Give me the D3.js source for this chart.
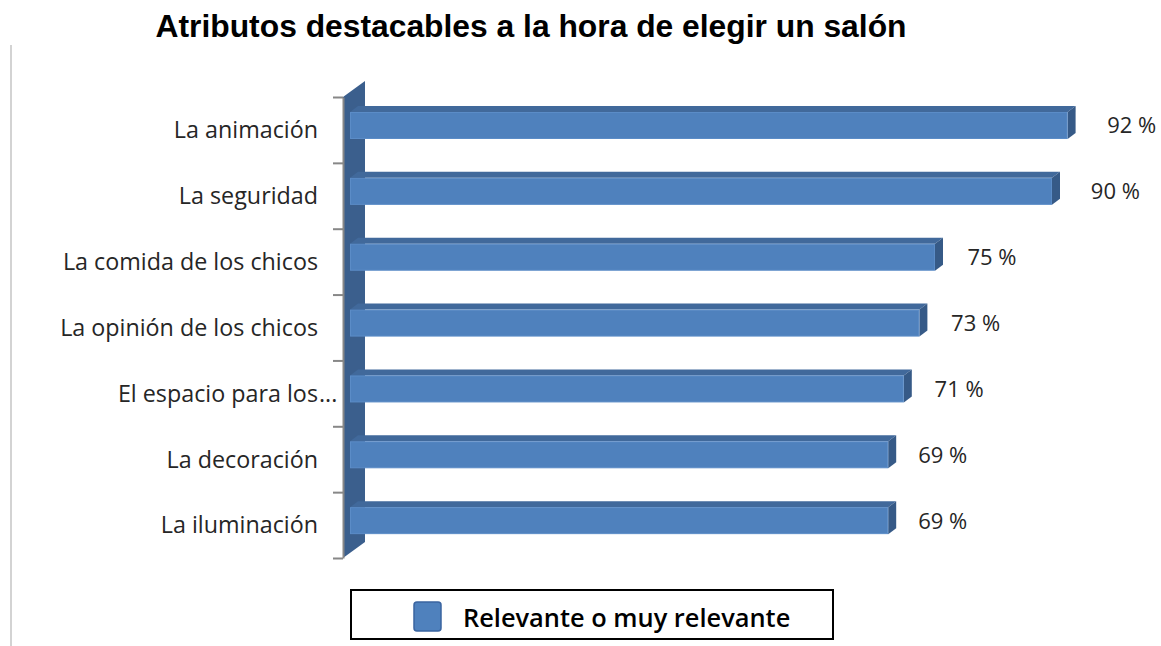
<!DOCTYPE html>
<html>
<head>
<meta charset="utf-8">
<script src="https://cdn.jsdelivr.net/npm/d3@7"></script>
<style>
  html, body { margin: 0; padding: 0; background: #fff; }
  svg { display: block; }
</style>
</head>
<body>
<svg id="chart" width="1161" height="646"></svg>
<script>
// Chart content
const chartTitle = "Atributos destacables a la hora de elegir un salón";
const categories = [
  "La animación",
  "La seguridad",
  "La comida de los chicos",
  "La opinión de los chicos",
  "El espacio para los...",
  "La decoración",
  "La iluminación"
];
const values = [92, 90, 75, 73, 71, 69, 69];
const seriesName = "Relevante o muy relevante";

const svg = d3.select("#chart");

const colors = {
  front: "#4f81bd",
  frontEdge: "#5b8cc7",
  top: "#41699b",
  side: "#365a87",
  wall: "#3b5f8d",
  axis: "#878787",
  text: "#262626"
};
const labelFont = "'Open Sans', Lato, sans-serif";

// Value axis (front plane) and the deeper plane used for the data labels
const x = d3.scaleLinear().domain([0, 100]).range([350, 1130]);
const xLabel = d3.scaleLinear().domain([0, 100]).range([351, 1173]);
const y = d3.scaleBand().domain(categories).range([97, 558]);
const yEdges = d3.scaleLinear().domain([0, categories.length]).range(y.range());

// 3D projection offsets
const wallDepth = { dx: 22, dy: -16 };
const barDepth = { dx: 8, dy: -6 };
const barOffset = 15, barHeight = 27;

// Frame line on the left of the chart area
svg.append("line")
  .attr("x1", 11).attr("x2", 11)
  .attr("y1", 45).attr("y2", 646)
  .attr("stroke", "#c4c4c4").attr("stroke-width", 1.5);

// Title
svg.append("text")
  .attr("x", 531).attr("y", 37)
  .attr("text-anchor", "middle")
  .attr("font-family", "'Liberation Sans', Arial, sans-serif")
  .attr("font-weight", "bold")
  .attr("font-size", 31.8)
  .attr("fill", "#000")
  .text(chartTitle);

// Side wall of the 3D plot
const [yTop, yBot] = y.range();
const wallX = 343;
svg.append("polygon")
  .attr("points", [
    [wallX, yTop],
    [wallX + wallDepth.dx, yTop + wallDepth.dy],
    [wallX + wallDepth.dx, yBot + wallDepth.dy],
    [wallX, yBot]
  ].map(p => p.join(",")).join(" "))
  .attr("fill", colors.wall);

// Category axis with ticks at the band edges
const axisG = svg.append("g")
  .attr("transform", `translate(${wallX},0)`)
  .call(d3.axisLeft(yEdges)
    .tickValues(d3.range(categories.length + 1))
    .tickSize(10)
    .tickSizeOuter(0)
    .tickFormat(""));
axisG.selectAll("path, line")
  .attr("stroke", colors.axis)
  .attr("stroke-width", 2);

// Bars
const bars = svg.append("g").selectAll("g")
  .data(categories.map((c, i) => ({ c, v: values[i] })))
  .join("g");

const pts = arr => arr.map(p => p.join(",")).join(" ");

bars.each(function (d) {
  const g = d3.select(this);
  const x0 = x(0), xe = x(d.v);
  const yt = y(d.c) + barOffset, yb = yt + barHeight;
  const { dx, dy } = barDepth;
  g.append("polygon")
    .attr("points", pts([[x0, yt], [x0 + dx, yt + dy], [xe + dx, yt + dy], [xe, yt]]))
    .attr("fill", colors.top);
  g.append("polygon")
    .attr("points", pts([[xe, yt], [xe + dx, yt + dy], [xe + dx, yb + dy], [xe, yb]]))
    .attr("fill", colors.side);
  g.append("rect")
    .attr("x", x0 + 0.5).attr("y", yt + 0.5)
    .attr("width", xe - x0 - 1).attr("height", barHeight - 1)
    .attr("fill", colors.front)
    .attr("stroke", colors.frontEdge).attr("stroke-width", 1);
});

// Data labels
bars.append("text")
  .attr("x", d => xLabel(d.v))
  .attr("y", d => y(d.c) + barOffset + barHeight / 2)
  .attr("dy", "0.36em")
  .attr("font-family", labelFont)
  .attr("font-size", 22)
  .attr("fill", colors.text)
  .text(d => `${d.v} %`);

// Category labels; a truncated name lets its ellipsis run past the label edge
const labelX = 318;
const catLabels = svg.append("g")
  .attr("font-family", labelFont)
  .attr("font-size", 23.3)
  .attr("fill", colors.text);

categories.forEach(c => {
  const cy = y(c) + y.bandwidth() / 2;
  const truncated = c.endsWith("...");
  const main = truncated ? c.slice(0, -3) : c;
  catLabels.append("text")
    .attr("x", labelX).attr("y", cy)
    .attr("dy", "0.36em")
    .attr("text-anchor", "end")
    .text(main);
  if (truncated) {
    catLabels.append("text")
      .attr("x", labelX + 1).attr("y", cy)
      .attr("dy", "0.36em")
      .text("...");
  }
});

// Legend
const legend = svg.append("g");
legend.append("rect")
  .attr("x", 351).attr("y", 590)
  .attr("width", 482).attr("height", 49)
  .attr("fill", "#fff")
  .attr("stroke", "#000").attr("stroke-width", 2);
legend.append("rect")
  .attr("x", 414).attr("y", 602)
  .attr("width", 27).attr("height", 29)
  .attr("rx", 3)
  .attr("fill", colors.front)
  .attr("stroke", "#3a64a0").attr("stroke-width", 1.5);
legend.append("text")
  .attr("x", 463).attr("y", 627)
  .attr("font-family", labelFont)
  .attr("font-weight", 600)
  .attr("font-size", 25.4)
  .attr("fill", "#000")
  .text(seriesName);
</script>
</body>
</html>
